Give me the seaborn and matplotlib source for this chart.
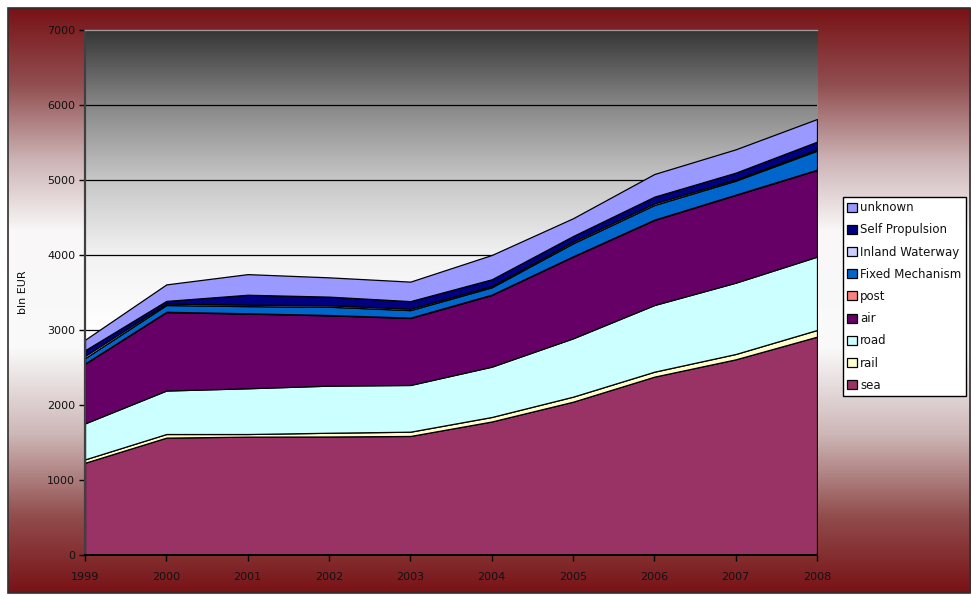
import numpy as np
import pandas as pd
import matplotlib
matplotlib.use("Agg")
import matplotlib.pyplot as plt
from matplotlib.colors import LinearSegmentedColormap
from matplotlib.patches import Rectangle
import seaborn as sns

# ---- data (bln EUR) ----
years = [1999, 2000, 2001, 2002, 2003, 2004, 2005, 2006, 2007, 2008]
sea = [1230, 1565, 1578, 1580, 1587, 1780, 2044, 2378, 2609, 2911]
rail = [45, 48, 35, 50, 57, 60, 67, 66, 71, 89]
road = [480, 580, 610, 628, 623, 671, 778, 889, 951, 978]
air = [795, 1045, 995, 937, 893, 956, 1089, 1134, 1169, 1155]
post = [5, 5, 5, 5, 5, 5, 5, 5, 5, 5]
fixed_mechanism = [70, 90, 95, 110, 100, 97, 173, 195, 186, 253]
inland_waterway = [30, 20, 20, 20, 20, 18, 22, 22, 18, 18]
self_propulsion = [75, 35, 132, 115, 100, 89, 75, 89, 89, 102]
unknown = [140, 220, 275, 257, 260, 324, 237, 302, 311, 302]

series_names = ["sea", "rail", "road", "air", "post", "Fixed Mechanism",
                "Inland Waterway", "Self Propulsion", "unknown"]
series_colors = ["#993366", "#FFFFCC", "#CCFFFF", "#660066", "#FF8080",
                 "#0066CC", "#CCCCFF", "#000080", "#9999FF"]
y_ticks = [0, 1000, 2000, 3000, 4000, 5000, 6000, 7000]

df = pd.DataFrame({"year": years, "sea": sea, "rail": rail, "road": road,
                   "air": air, "post": post, "Fixed Mechanism": fixed_mechanism,
                   "Inland Waterway": inland_waterway,
                   "Self Propulsion": self_propulsion, "unknown": unknown})

sns.set_theme(style="white")
plt.rcParams["font.family"] = ["DejaVu Sans"]

fig = plt.figure(figsize=(9.71, 5.96), dpi=100)
fig.patch.set_facecolor("white")

# figure background gradient (dark red -> white -> dark red)
bg = fig.add_axes([0, 0, 1, 1], zorder=-5)
bg.set_axis_off()
bg.set_xlim(0, 1)
bg.set_ylim(0, 1)
red = (120 / 255, 18 / 255, 22 / 255)
stops = [(0.0, red), (0.13, (145 / 255, 78 / 255, 80 / 255)),
         (0.26, (205 / 255, 180 / 255, 182 / 255)),
         (0.38, (249 / 255, 247 / 255, 247 / 255)),
         (0.58, (250 / 255, 250 / 255, 250 / 255)),
         (0.73, (205 / 255, 182 / 255, 182 / 255)),
         (0.87, (145 / 255, 76 / 255, 76 / 255)), (1.0, red)]
cmap_bg = LinearSegmentedColormap.from_list("bgred", stops, N=2048)
grad = np.linspace(0, 1, 1200).reshape(-1, 1)
x0, x1 = 8 / 971, 970 / 971
y0, y1 = 1 - 593 / 596, 1 - 8 / 596
bg.imshow(grad, cmap=cmap_bg, aspect="auto", extent=(x0, x1, y0, y1),
          origin="upper", interpolation="bilinear")
bg.add_patch(Rectangle((x0, y0), x1 - x0, y1 - y0, fill=False,
                       edgecolor="#303030", linewidth=1.2))

ax = fig.add_axes([85 / 971, 1 - 555 / 596, (817 - 85) / 971, (555 - 30) / 596])
ax.set_axisbelow(True)

# plot-area gradient (dark gray -> white)
gray_stops = [(0.0, (0.21, 0.21, 0.21)), (0.143, (0.53, 0.53, 0.53)),
              (0.286, (0.78, 0.78, 0.78)), (0.43, (0.95, 0.95, 0.95)),
              (0.57, (1, 1, 1)), (1.0, (1, 1, 1))]
cmap_gray = LinearSegmentedColormap.from_list("bggray", gray_stops, N=2048)
ax.imshow(grad, cmap=cmap_gray, aspect="auto", extent=(0, 1, 0, 1),
          transform=ax.transAxes, origin="upper", zorder=0, interpolation="bilinear")

ax.stackplot(df["year"], *[df[n] for n in series_names],
             colors=series_colors, labels=series_names,
             edgecolor="black", linewidth=0.9, zorder=2)

ax.set_xlim(years[0], years[-1])
ax.set_ylim(0, 7000)
ax.set_xticks(years)
ax.set_xticklabels([str(y) for y in years])
ax.set_yticks(y_ticks)
ax.yaxis.grid(True, color="black", linewidth=0.9)
ax.xaxis.grid(False)

ax.spines["left"].set_color("#404040")
ax.spines["left"].set_linewidth(1.6)
ax.spines["bottom"].set_color("black")
ax.spines["bottom"].set_linewidth(1.4)
ax.spines["bottom"].set_zorder(3)
ax.spines["top"].set_color("#9a9a9a")
ax.spines["top"].set_linewidth(1.0)
ax.spines["right"].set_visible(False)

ax.tick_params(axis="both", which="major", direction="out", length=4,
               width=1, color="black", labelsize=8, labelcolor="#111111",
               left=True, bottom=True)
ax.tick_params(axis="y", pad=3)
ax.tick_params(axis="x", pad=8)
ax.set_ylabel("bln EUR", fontsize=8, color="#111111", labelpad=14)
ax.set_xlabel("")

handles, labels = ax.get_legend_handles_labels()
leg = ax.legend(handles[::-1], labels[::-1], loc="upper left",
                bbox_to_anchor=(843 / 971, 1 - 197 / 596),
                bbox_transform=fig.transFigure, borderaxespad=0,
                fontsize=8.5, frameon=True, fancybox=False, framealpha=1,
                edgecolor="black", facecolor="white", handlelength=0.8,
                handleheight=0.8, handletextpad=0.3, labelspacing=0.78,
                borderpad=0.35)
leg.get_frame().set_linewidth(1.0)
for t in leg.get_texts():
    t.set_color("#111111")

fig.savefig("out.png", dpi=100)
